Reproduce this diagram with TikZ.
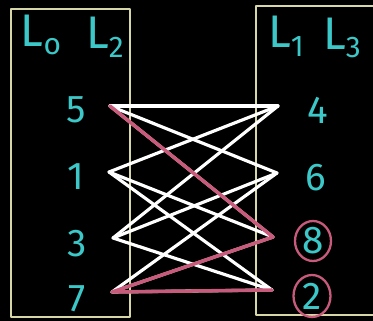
\documentclass[tikz,border=0pt]{standalone}
\usepackage{fontspec}
\setmainfont{Fira Sans}
\definecolor{chalkcyan}{HTML}{3CC8C8}
\definecolor{chalkpink}{HTML}{C85A7C}
\definecolor{chalkframe}{HTML}{D6D6A6}
\newcommand{\lsub}[1]{\raisebox{-5pt}{\fontsize{17}{17}\selectfont #1}}
\begin{document}
\begin{tikzpicture}[x=0.02cm, y=-0.02cm, line join=round, line cap=round,
    num/.style={text=chalkcyan, font=\fontsize{22}{22}\selectfont, inner sep=0pt},
    head/.style={text=chalkcyan, font=\fontsize{26}{26}\selectfont, inner sep=0pt},
    frame/.style={draw=chalkframe, line width=1.2pt},
    wire/.style={white, line width=1.8pt},
    hot/.style={chalkpink, line width=2pt}]
    \fill[black] (0,0) rectangle (373,321);
    \useasboundingbox (0,0) rectangle (373,321);
    \clip (0,0) rectangle (373,321);
    \draw[frame] (11,9) rectangle (130,317);
    \draw[frame] (256,6) rectangle (392,315);
    \node[head] (l0) at (41,35) {L\lsub{o}};
    \node[head] (l2) at (105,37) {L\lsub{2}};
    \node[head] (l1) at (286,36) {L\lsub{1}};
    \node[head] (l3) at (342,38) {L\lsub{3}};
    \node[num] (n5) at (76,110) {5};
    \node[num] (n1) at (76,177) {1};
    \node[num] (n3) at (77,244) {3};
    \node[num] (n7) at (77,299) {7};
    \node[num] (n4) at (318,110) {4};
    \node[num] (n6) at (316,178) {6};
    \node[num] (n8) at (313,241) {8};
    \node[num] (n2) at (312,296) {2};
    \coordinate (a5) at (110,106);
    \coordinate (a1) at (109,172);
    \coordinate (a3) at (113,238);
    \coordinate (a7) at (112,292);
    \coordinate (b4) at (278,106);
    \coordinate (b6) at (277,173);
    \coordinate (b8) at (273,237);
    \coordinate (b2) at (272,290);
    \foreach \u/\v in {a5/b4,a5/b6,a5/b8,a1/b4,a1/b8,a1/b2,a3/b4,a3/b6,a3/b2,a7/b6,a7/b8,a7/b2}
        \draw[wire] (\u) -- (\v);
    \draw[hot] (a5) -- (b8) -- (a7) -- (b2);
    \draw[hot, line width=1.3pt] (n8) ellipse (0.36cm and 0.40cm);
    \draw[hot, line width=1.3pt] (n2) ellipse (0.37cm and 0.42cm);
\end{tikzpicture}
\end{document}
